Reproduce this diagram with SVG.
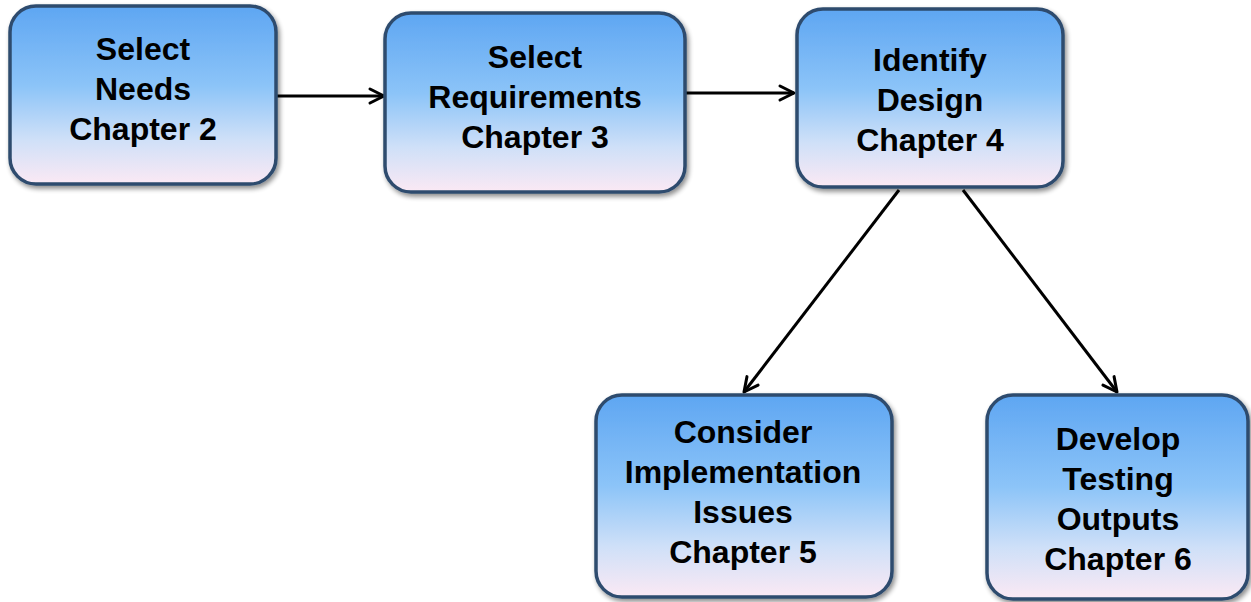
<svg xmlns="http://www.w3.org/2000/svg" width="1251" height="602" viewBox="0 0 1251 602">
<defs>
<linearGradient id="fill" x1="0" y1="0" x2="0" y2="1">
<stop offset="0" stop-color="#5ea6f2"/>
<stop offset="0.45" stop-color="#8cc4f8"/>
<stop offset="0.75" stop-color="#cfe0f8"/>
<stop offset="1" stop-color="#fbe9f4"/>
</linearGradient>
<filter id="sh" x="-10%" y="-10%" width="125%" height="130%">
<feGaussianBlur in="SourceAlpha" stdDeviation="2.5"/>
<feOffset dx="2" dy="3" result="b"/>
<feComponentTransfer><feFuncA type="linear" slope="0.45"/></feComponentTransfer>
<feMerge><feMergeNode/><feMergeNode in="SourceGraphic"/></feMerge>
</filter>
<marker id="arr" viewBox="0 0 20 20" refX="17" refY="10" markerWidth="20" markerHeight="20" markerUnits="userSpaceOnUse" orient="auto">
<path d="M3,3 L17,10 L3,17" fill="none" stroke="#000" stroke-width="3" stroke-linecap="round" stroke-linejoin="round"/>
</marker>
</defs>
<style>
.box{fill:url(#fill);stroke:#2e4c6e;stroke-width:3.5;filter:url(#sh)}
.t{font-family:"Liberation Sans",Arial,sans-serif;font-weight:bold;font-size:32px;fill:#000;text-anchor:middle}
.c{fill:none;stroke:#000;stroke-width:3;marker-end:url(#arr)}
</style>
<rect width="1251" height="602" fill="#fff"/>
<g id="connectors">
<line class="c" x1="277" y1="96" x2="384" y2="96"/>
<line class="c" x1="686" y1="93" x2="794" y2="93"/>
<line class="c" x1="899" y1="190" x2="744" y2="392"/>
<line class="c" x1="963" y1="190" x2="1117" y2="392"/>
</g>
<g id="n1">
<rect class="box" x="10" y="6" width="266" height="178" rx="26"/>
<text class="t" x="143" y="60">Select</text>
<text class="t" x="143" y="100">Needs</text>
<text class="t" x="143" y="140">Chapter 2</text>
</g>
<g id="n2">
<rect class="box" x="385" y="13" width="300" height="179" rx="26"/>
<text class="t" x="535" y="68">Select</text>
<text class="t" x="535" y="108">Requirements</text>
<text class="t" x="535" y="148">Chapter 3</text>
</g>
<g id="n3">
<rect class="box" x="797" y="9" width="266" height="178" rx="26"/>
<text class="t" x="930" y="71">Identify</text>
<text class="t" x="930" y="111">Design</text>
<text class="t" x="930" y="151">Chapter 4</text>
</g>
<g id="n4">
<rect class="box" x="596" y="395" width="296" height="202" rx="26"/>
<text class="t" x="743" y="443">Consider</text>
<text class="t" x="743" y="483">Implementation</text>
<text class="t" x="743" y="523">Issues</text>
<text class="t" x="743" y="563">Chapter 5</text>
</g>
<g id="n5">
<rect class="box" x="987" y="395" width="261" height="204" rx="26"/>
<text class="t" x="1118" y="450">Develop</text>
<text class="t" x="1118" y="490">Testing</text>
<text class="t" x="1118" y="530">Outputs</text>
<text class="t" x="1118" y="570">Chapter 6</text>
</g>
</svg>
